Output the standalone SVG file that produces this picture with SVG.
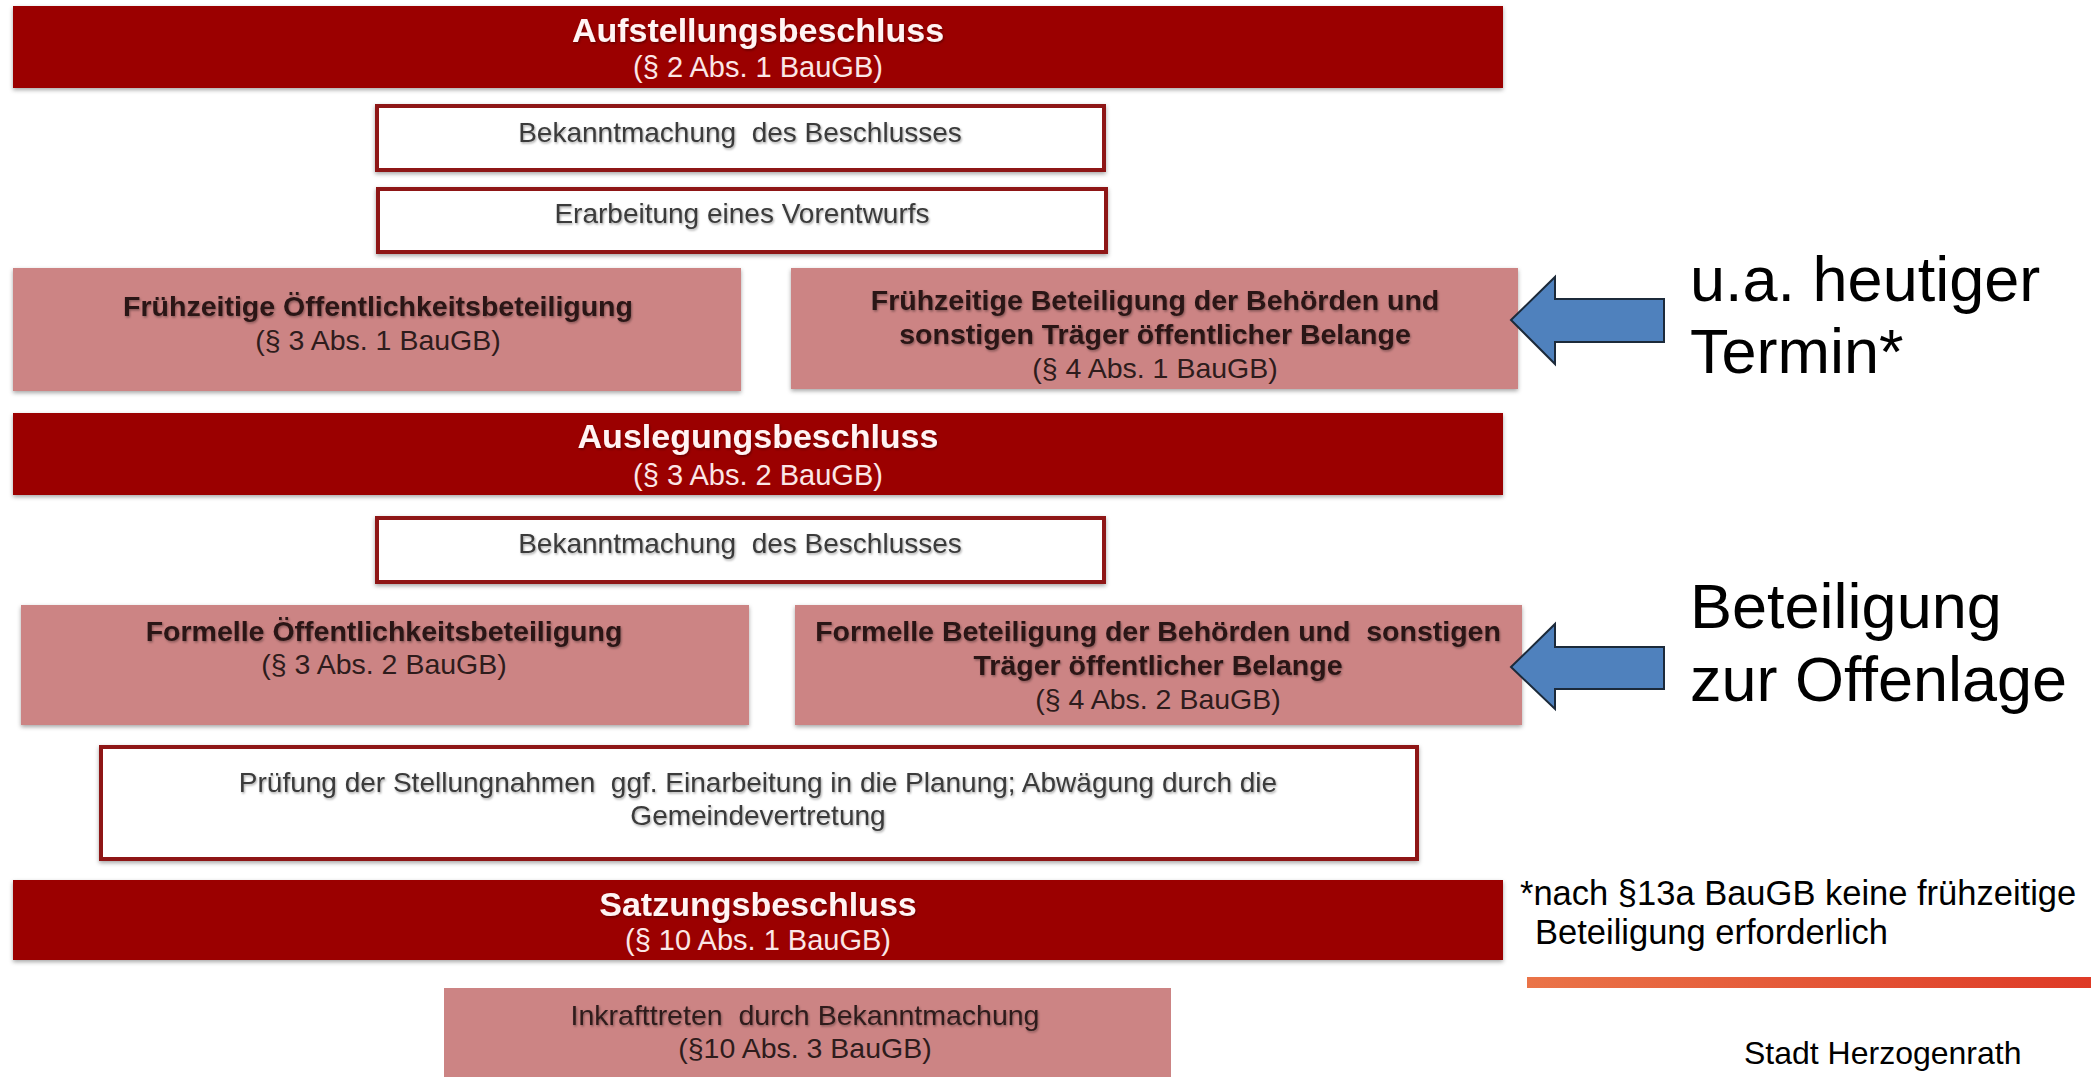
<svg xmlns="http://www.w3.org/2000/svg" width="2091" height="1077" viewBox="0 0 2091 1077">
<defs>
<style>
.bar{fill:#9b0000;}
.wbox{fill:#ffffff;stroke:#8e1414;stroke-width:4;}
.pbox{fill:#cc8484;}
text{font-family:"Liberation Sans",Arial,sans-serif;text-anchor:middle;white-space:pre;}
.tt{font-size:34px;font-weight:bold;fill:#fff4f4;}
.ts{font-size:29px;fill:#fbe6e6;}
.tw{font-size:28px;fill:#3a3a3a;}
.tb{font-size:28.5px;font-weight:bold;fill:#2a1414;}
.tp{font-size:28.5px;fill:#2e1c1c;}
.big{font-size:63px;fill:#000;text-anchor:start;}
.note{font-size:34.5px;fill:#000;text-anchor:start;}
.arrow{fill:#4f81bd;stroke:#1c2a3a;stroke-width:2;stroke-linejoin:miter;}
</style>
<filter id="sh" x="-5%" y="-20%" width="110%" height="150%">
<feDropShadow dx="0" dy="2" stdDeviation="2" flood-color="#000" flood-opacity="0.35"/>
</filter>
<filter id="tsh" x="-5%" y="-30%" width="110%" height="160%">
<feDropShadow dx="1" dy="1.5" stdDeviation="1" flood-color="#000" flood-opacity="0.35"/>
</filter>
<linearGradient id="og" x1="0" y1="0" x2="1" y2="0">
<stop offset="0" stop-color="#ea7448"/>
<stop offset="1" stop-color="#de3a26"/>
</linearGradient>
</defs>
<rect width="2091" height="1077" fill="#ffffff"/>

<g id="connectors"></g>

<g id="aufstellungsbeschluss">
<rect class="bar" x="13" y="6" width="1490" height="82" filter="url(#sh)"/>
<text class="tt" x="758" y="42" filter="url(#tsh)">Aufstellungsbeschluss</text>
<text class="ts" x="758" y="77">(§ 2 Abs. 1 BauGB)</text>
</g>

<g id="bekanntmachung1">
<rect class="wbox" x="377" y="106" width="727" height="64" filter="url(#sh)"/>
<text class="tw" x="740" y="142" filter="url(#tsh)">Bekanntmachung  des Beschlusses</text>
</g>

<g id="erarbeitung">
<rect class="wbox" x="378" y="189" width="728" height="63" filter="url(#sh)"/>
<text class="tw" x="742" y="223" filter="url(#tsh)">Erarbeitung eines Vorentwurfs</text>
</g>

<g id="fruehzeitige-oeffentlichkeit">
<rect class="pbox" x="13" y="268" width="728" height="123" filter="url(#sh)"/>
<text class="tb" x="378" y="316" filter="url(#tsh)">Frühzeitige Öffentlichkeitsbeteiligung</text>
<text class="tp" x="378" y="350">(§ 3 Abs. 1 BauGB)</text>
</g>

<g id="fruehzeitige-behoerden">
<rect class="pbox" x="791" y="268" width="727" height="121" filter="url(#sh)"/>
<text class="tb" x="1155" y="310" filter="url(#tsh)">Frühzeitige Beteiligung der Behörden und</text>
<text class="tb" x="1155" y="344" filter="url(#tsh)">sonstigen Träger öffentlicher Belange</text>
<text class="tp" x="1155" y="378">(§ 4 Abs. 1 BauGB)</text>
</g>

<g id="auslegungsbeschluss">
<rect class="bar" x="13" y="413" width="1490" height="82" filter="url(#sh)"/>
<text class="tt" x="758" y="448" filter="url(#tsh)">Auslegungsbeschluss</text>
<text class="ts" x="758" y="485">(§ 3 Abs. 2 BauGB)</text>
</g>

<g id="bekanntmachung2">
<rect class="wbox" x="377" y="518" width="727" height="64" filter="url(#sh)"/>
<text class="tw" x="740" y="553" filter="url(#tsh)">Bekanntmachung  des Beschlusses</text>
</g>

<g id="formelle-oeffentlichkeit">
<rect class="pbox" x="21" y="605" width="728" height="120" filter="url(#sh)"/>
<text class="tb" x="384" y="641" filter="url(#tsh)">Formelle Öffentlichkeitsbeteiligung</text>
<text class="tp" x="384" y="674">(§ 3 Abs. 2 BauGB)</text>
</g>

<g id="formelle-behoerden">
<rect class="pbox" x="795" y="605" width="727" height="120" filter="url(#sh)"/>
<text class="tb" x="1158" y="641" filter="url(#tsh)">Formelle Beteiligung der Behörden und  sonstigen</text>
<text class="tb" x="1158" y="675" filter="url(#tsh)">Träger öffentlicher Belange</text>
<text class="tp" x="1158" y="709">(§ 4 Abs. 2 BauGB)</text>
</g>

<g id="pruefung">
<rect class="wbox" x="101" y="747" width="1316" height="112" filter="url(#sh)"/>
<text class="tw" x="758" y="792" filter="url(#tsh)">Prüfung der Stellungnahmen  ggf. Einarbeitung in die Planung; Abwägung durch die</text>
<text class="tw" x="758" y="825" filter="url(#tsh)">Gemeindevertretung</text>
</g>

<g id="satzungsbeschluss">
<rect class="bar" x="13" y="880" width="1490" height="80" filter="url(#sh)"/>
<text class="tt" x="758" y="916" filter="url(#tsh)">Satzungsbeschluss</text>
<text class="ts" x="758" y="950">(§ 10 Abs. 1 BauGB)</text>
</g>

<g id="inkrafttreten">
<rect class="pbox" x="444" y="988" width="727" height="95"/>
<text class="tp" x="805" y="1025" filter="url(#tsh)">Inkrafttreten  durch Bekanntmachung</text>
<text class="tp" x="805" y="1058">(§10 Abs. 3 BauGB)</text>
</g>

<g id="arrow-heutiger-termin">
<polygon class="arrow" points="1511,320 1555,277 1555,299 1664,299 1664,342 1555,342 1555,364"/>
<text class="big" x="1690" y="301">u.a. heutiger</text>
<text class="big" x="1690" y="373">Termin*</text>
</g>

<g id="arrow-offenlage">
<polygon class="arrow" points="1511,667 1555,624 1555,647 1664,647 1664,689 1555,689 1555,709"/>
<text class="big" x="1690" y="628">Beteiligung</text>
<text class="big" x="1690" y="701">zur Offenlage</text>
</g>

<g id="footnote">
<text class="note" x="1520" y="905">*nach §13a BauGB keine frühzeitige</text>
<text class="note" x="1535" y="944">Beteiligung erforderlich</text>
</g>

<g id="footer">
<rect x="1527" y="977" width="564" height="11" fill="url(#og)"/>
<text class="note" x="1744" y="1064" style="font-size:32px">Stadt Herzogenrath</text>
</g>
</svg>
